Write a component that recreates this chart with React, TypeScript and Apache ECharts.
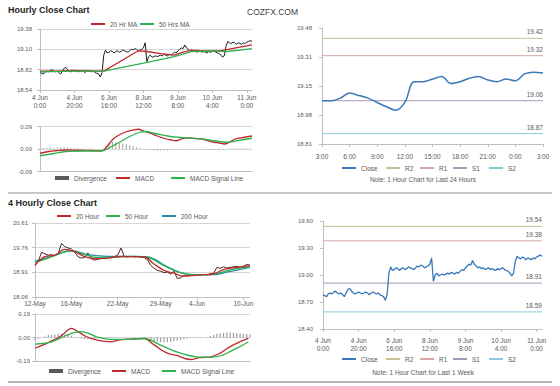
import React, { useEffect, useRef } from 'react';
import * as echarts from 'echarts';

const FONT = '"Liberation Sans", Arial, Helvetica, sans-serif';

// ---------- Hourly chart, last week (x = hour index) ----------
const weekTickIdx = [0, 20, 40, 60, 80, 100, 120];
const weekTickLabels = ['4 Jun\n0:00', '4 Jun\n20:00', '6 Jun\n16:00', '8 Jun\n12:00', '9 Jun\n8:00', '10 Jun\n4:00', '11 Jun\n0:00'];
const weekClose = [
  18.78, 18.77, 18.76, 18.79, 18.80, 18.79, 18.81, 18.82, 18.80, 18.79,
  18.80, 18.78, 18.76, 18.80, 18.84, 18.85, 18.82, 18.80, 18.79, 18.80,
  18.81, 18.80, 18.79, 18.80, 18.81, 18.80, 18.78, 18.80, 18.81, 18.80,
  18.79, 18.80, 18.78, 18.77, 18.76, 18.72, 18.78, 19.02, 19.09, 19.05,
  19.06, 19.08, 19.07, 19.05, 19.07, 19.08, 19.06, 19.07, 19.09, 19.08,
  19.07, 19.06, 19.08, 19.10, 19.09, 19.11, 19.10, 19.08, 19.09, 19.10,
  19.12, 19.19, 18.93, 19.00, 19.02, 18.99, 19.00, 19.01, 19.00, 19.01,
  19.02, 19.01, 19.03, 19.02, 19.01, 19.03, 19.02, 19.04, 19.06, 19.05,
  19.08, 19.10, 19.12, 19.11, 19.16, 19.12, 19.10, 19.08, 19.09, 19.07,
  19.08, 19.06, 19.07, 19.08, 19.06, 19.07, 19.06, 19.05, 19.07, 19.06,
  19.07, 19.08, 19.06, 19.05, 19.04, 19.02, 18.99, 19.02, 19.15, 19.21,
  19.19, 19.18, 19.20, 19.19, 19.17, 19.19, 19.18, 19.17, 19.19, 19.18,
  19.20, 19.21, 19.22, 19.21,
];
const ma20Hr = [[0, 18.80], [10, 18.80], [20, 18.81], [30, 18.80], [37, 18.80], [47, 18.94], [57, 19.08], [62, 19.07], [70, 19.04], [78, 19.02], [83, 19.06], [88, 19.09], [96, 19.08], [104, 19.08], [109, 19.10], [116, 19.13], [123, 19.16]];
const ma50Hr = [[0, 18.79], [20, 18.80], [37, 18.80], [60, 18.91], [78, 19.00], [88, 19.07], [98, 19.08], [108, 19.07], [116, 19.09], [123, 19.11]];
// divergence every 2 hours
const divHourly = [
  0.003, 0.004, 0.005, 0.005, 0.004, 0.005, 0.006, 0.006, 0.005, 0.004,
  0.003, 0.002, 0.001, 0.001, 0.000, 0.001, 0.000, -0.001, 0.001, 0.010,
  0.022, 0.028, 0.027, 0.025, 0.022, 0.019, 0.015, 0.011, 0.007, 0.003,
  0.000, -0.003, -0.004, -0.005, -0.006, -0.006, -0.006, -0.005, -0.004, -0.003,
  -0.002, -0.001, 0.000, 0.001, 0.000, -0.001, -0.001, -0.002, -0.002, -0.003,
  -0.003, -0.003, -0.004, -0.003, -0.001, 0.001, 0.002, 0.003, 0.003, 0.003,
  0.003, 0.002,
];
const macdHourly = [[0, -0.017], [5, -0.010], [9, -0.007], [15, -0.004], [22, -0.005], [30, -0.006], [35, -0.007], [37, -0.004], [40, 0.020], [43, 0.043], [47, 0.060], [50, 0.069], [54, 0.076], [57, 0.079], [60, 0.072], [64, 0.063], [68, 0.052], [72, 0.043], [76, 0.036], [79, 0.033], [82, 0.040], [85, 0.045], [90, 0.042], [94, 0.040], [98, 0.032], [101, 0.027], [104, 0.024], [107, 0.020], [110, 0.028], [113, 0.039], [118, 0.046], [123, 0.052]];
const signalHourly = [[0, -0.027], [8, -0.018], [15, -0.010], [25, -0.008], [35, -0.008], [37, -0.006], [42, 0.012], [47, 0.030], [52, 0.050], [58, 0.067], [61, 0.070], [67, 0.062], [74, 0.052], [80, 0.047], [85, 0.045], [94, 0.040], [101, 0.033], [108, 0.027], [115, 0.034], [123, 0.043]];

// ---------- 4 hourly chart (x = bar index, 8h per step) ----------
const fourTickIdx = [0, 11, 25, 38, 49, 63];
const fourTickLabels = ['12-May', '16-May', '22-May', '29-May', '4-Jun', '10-Jun'];
const fourClose = [
  19.16, 19.30, 19.60, 19.55, 19.50, 19.52, 19.48, 19.55, 19.90, 19.80,
  19.75, 19.72, 19.60, 19.45, 19.40, 19.42, 19.58, 19.38, 19.33, 19.36,
  19.40, 19.38, 19.44, 19.42, 19.45, 19.50, 19.75, 19.45, 19.44, 19.46,
  19.44, 19.45, 19.43, 19.42, 19.35, 19.15, 19.05, 18.98, 18.95, 18.90,
  18.92, 18.85, 18.95, 18.70, 18.72, 18.80, 18.78, 18.82, 18.80, 18.83,
  18.82, 18.84, 18.82, 18.86, 18.88, 19.08, 19.05, 19.10, 19.06, 19.08,
  19.10, 19.12, 19.08, 19.12, 19.18, 19.16,
];
const ma20Four = [[0, 19.15], [3, 19.45], [6, 19.50], [9, 19.70], [12, 19.62], [15, 19.45], [18, 19.38], [22, 19.40], [26, 19.46], [30, 19.45], [33, 19.44], [36, 19.20], [39, 18.98], [42, 18.88], [45, 18.78], [50, 18.82], [54, 18.86], [57, 19.00], [61, 19.08], [65, 19.14]];
const ma50Four = [[0, 19.25], [4, 19.40], [8, 19.58], [11, 19.65], [15, 19.52], [19, 19.42], [24, 19.43], [30, 19.46], [34, 19.43], [38, 19.20], [42, 18.98], [46, 18.85], [52, 18.82], [56, 18.90], [60, 19.02], [65, 19.10]];
const ma200Four = [[0, 19.30], [5, 19.45], [11, 19.66], [16, 19.52], [22, 19.46], [30, 19.46], [34, 19.44], [40, 19.10], [44, 18.90], [48, 18.83], [54, 18.83], [58, 18.92], [65, 19.08]];
const divFour = [
  -0.020, -0.010, 0.000, 0.010, 0.020, 0.020, 0.025, 0.030, 0.030, 0.025,
  0.020, 0.015, 0.005, -0.005, -0.010, -0.015, -0.015, -0.010, -0.010, -0.008,
  -0.006, -0.005, -0.004, -0.003, -0.002, 0.000, 0.000, 0.000, 0.000, 0.000,
  0.000, 0.000, -0.002, -0.005, -0.012, -0.020, -0.030, -0.035, -0.040, -0.040,
  -0.038, -0.035, -0.030, -0.025, -0.020, -0.015, -0.010, -0.005, -0.004, -0.003,
  -0.002, 0.000, 0.005, 0.012, 0.020, 0.030, 0.035, 0.038, 0.040, 0.040,
  0.038, 0.035, 0.032, 0.030, 0.028, 0.025,
];
const macdFour = [[0, -0.087], [2.5, -0.060], [5.5, -0.020], [7.5, 0.006], [10, 0.060], [11, 0.074], [13, 0.047], [15.6, 0.006], [18.6, -0.020], [22.7, -0.034], [25.7, -0.020], [29.7, -0.012], [33, -0.008], [36, -0.060], [39.8, -0.125], [42.8, -0.145], [46.9, -0.178], [49.9, -0.163], [52.9, -0.158], [55.9, -0.128], [59, -0.074], [62, -0.034], [64.5, -0.007]];
const signalFour = [[0, -0.053], [4.5, -0.039], [7.5, -0.007], [11, 0.034], [13.6, 0.047], [16, 0.035], [18.6, 0.006], [22.7, -0.015], [29.7, -0.012], [33, -0.008], [37.8, -0.060], [43.8, -0.125], [49.9, -0.158], [54, -0.158], [60, -0.100], [64.5, -0.034]];

// ---------- Last 24 hours (x = hour index) ----------
const dayTickLabels = ['3:00', '6:00', '9:00', '12:00', '15:00', '18:00', '21:00', '0:00', '3:00'];
const dayYLabels = ['18.81', '18.98', '19.15', '19.31', '19.48'];
const dayClose = [19.06, 19.06, 19.075, 19.105, 19.09, 19.075, 19.05, 19.025, 19.005, 19.05, 19.17, 19.17, 19.185, 19.20, 19.16, 19.17, 19.19, 19.20, 19.18, 19.17, 19.185, 19.175, 19.215, 19.225, 19.22];

// ---------- Pivot levels ----------
const levelNames = ['R2', 'R1', 'S1', 'S2'];
const levelColors = ['#c9c092', '#dba3a3', '#a697b8', '#8ccbdc'];
const dayLevels = [19.42, 19.32, 19.06, 18.87];
const weekLevels = [19.54, 19.38, 18.91, 18.59];

const RED = '#c0282c';
const GREEN = '#2db24e';
const TEAL = '#2a8aaa';
const BLUE = '#3a78b8';
const AXIS = '#bfbfbf';
const TXT = '#595959';

const fix2 = (v: number) => (Math.abs(v) < 1e-9 ? '0.00' : v.toFixed(2));

function xAxisOf(grid: number, max: number, ticks: number[] | null, labels: string[] | null, margin: number, interval?: number) {
  const axis: any = {
    type: 'value', gridIndex: grid, min: 0, max,
    axisLine: { show: true, onZero: false, lineStyle: { color: AXIS, width: 1 } },
    splitLine: { show: false },
  };
  if (interval) axis.interval = interval;
  if (ticks && labels) {
    axis.axisTick = { show: true, length: 3, lineStyle: { color: AXIS }, customValues: ticks };
    axis.axisLabel = {
      show: true, customValues: ticks, margin, color: TXT, fontSize: 6.5, lineHeight: 7.5, fontFamily: FONT,
      formatter: (v: number) => { const k = ticks.indexOf(v); return k >= 0 ? labels[k] : ''; },
    };
  } else {
    axis.axisTick = { show: false };
    axis.axisLabel = { show: false };
  }
  return axis;
}

function yAxisOf(grid: number, min: number, max: number, interval: number, margin: number, split: boolean, fmt: any = fix2) {
  return {
    type: 'value', gridIndex: grid, min, max, interval,
    axisLine: { show: true, onZero: false, lineStyle: { color: AXIS, width: 1 } },
    axisTick: { show: true, length: 3, lineStyle: { color: AXIS } },
    axisLabel: { margin, color: TXT, fontSize: 6, fontFamily: FONT, formatter: fmt },
    splitLine: { show: split, lineStyle: { color: '#d6d6d6', width: 1 } },
  };
}

function lineS(name: string, ax: number, data: any[], color: string, width: number, smooth: boolean | number = false, z = 3) {
  return {
    type: 'line', name, xAxisIndex: ax, yAxisIndex: ax, data, color,
    showSymbol: false, smooth, z, silent: true,
    lineStyle: { color, width },
  };
}

function levelSeries(ax: number, levels: number[], xMax: number) {
  return levelNames.map((n, k) => ({
    type: 'line', name: n, xAxisIndex: ax, yAxisIndex: ax, color: levelColors[k], silent: true,
    showSymbol: true, symbol: 'circle', symbolSize: 0.01, z: 2,
    lineStyle: { color: levelColors[k], width: 1 },
    data: [
      [0, levels[k]],
      {
        value: [xMax, levels[k]],
        label: { show: true, position: 'top', align: 'right', distance: 3, formatter: levels[k].toFixed(2), color: TXT, fontSize: 6.5, fontFamily: FONT },
      },
    ],
  }));
}

function leg(name: any, left: number, yc: number, h = 2) {
  return {
    left, top: yc - 3.5, padding: 0, itemGap: 0, itemWidth: 14, itemHeight: h, icon: 'rect',
    selectedMode: false, data: [name],
    textStyle: { fontSize: 6.5, color: TXT, fontFamily: FONT },
  };
}

function buildOption(): any {
  const grids = [
    { left: 40, top: 29, width: 212, height: 61 },
    { left: 40, top: 126.5, width: 212, height: 45 },
    { left: 322, top: 28, width: 221, height: 116 },
    { left: 35, top: 223, width: 215, height: 74 },
    { left: 35, top: 314, width: 215, height: 47 },
    { left: 323, top: 221, width: 219, height: 108 },
  ].map((g) => ({ ...g, containLabel: false, outerBoundsMode: 'none' }));

  const xAxis = [
    xAxisOf(0, 123, weekTickIdx, weekTickLabels, 4, 20),
    xAxisOf(1, 123, null, null, 0, 20),
    xAxisOf(2, 24, [0, 3, 6, 9, 12, 15, 18, 21, 24], dayTickLabels, 9, 3),
    xAxisOf(3, 65, fourTickIdx, fourTickLabels, 3),
    xAxisOf(4, 65, null, null, 0),
    xAxisOf(5, 123, weekTickIdx, weekTickLabels, 8, 20),
  ];
  const yAxis = [
    yAxisOf(0, 18.54, 19.38, 0.28, 8, true),
    yAxisOf(1, -0.09, 0.09, 0.09, 8, true),
    yAxisOf(2, 18.81, 19.48, 0.1675, 10, false, (_v: number, i: number) => dayYLabels[i] ?? ''),
    yAxisOf(3, 18.06, 20.61, 0.85, 7, true),
    yAxisOf(4, -0.19, 0.19, 0.19, 5, true),
    yAxisOf(5, 18.4, 19.6, 0.3, 10, false),
  ];

  const series: any[] = [
    // top-left price
    lineS('Hourly Price', 0, weekClose.map((v, i) => [i, v]), '#1e1e1e', 1, false, 2),
    lineS('20 Hr MA', 0, ma20Hr, RED, 1.3),
    lineS('50 Hrs MA', 0, ma50Hr, GREEN, 1.3),
    // top-left MACD
    {
      type: 'bar', name: 'Divergence', xAxisIndex: 1, yAxisIndex: 1, color: '#9e9e9e', barWidth: 1, silent: true,
      data: divHourly.map((v, k) => [k * 2, v]),
    },
    lineS('MACD', 1, macdHourly, RED, 1.3, 0.4),
    lineS('MACD Signal Line', 1, signalHourly, GREEN, 1.3, 0.4),
    // top-right
    ...levelSeries(2, dayLevels, 24),
    lineS('Close', 2, dayClose.map((v, i) => [i, v]), BLUE, 1.5, 0.35, 4),
    // bottom-left price
    lineS('4H Price', 3, fourClose.map((v, i) => [i, v]), '#4a2418', 1, false, 2),
    lineS('200 Hour', 3, ma200Four, TEAL, 1.3, 0.4),
    lineS('50 Hour', 3, ma50Four, GREEN, 1.3, 0.4),
    lineS('20 Hour', 3, ma20Four, RED, 1.3, 0.4),
    // bottom-left MACD
    {
      type: 'bar', name: 'Divergence', xAxisIndex: 4, yAxisIndex: 4, color: '#9e9e9e', barWidth: 1.2, silent: true,
      data: divFour.map((v, i) => [i, v]),
    },
    lineS('MACD', 4, macdFour, RED, 1.3, 0.4),
    lineS('MACD Signal Line', 4, signalFour, GREEN, 1.3, 0.4),
    // bottom-right
    ...levelSeries(5, weekLevels, 123),
    lineS('Close', 5, weekClose.map((v, i) => [i, v]), BLUE, 1.3, false, 4),
  ];

  const divLegend = { name: 'Divergence', itemStyle: { color: '#595959' } };
  const legend = [
    leg('20 Hr MA', 91, 24), leg('50 Hrs MA', 140, 24),
    leg(divLegend, 55, 178, 4), leg('MACD', 116, 178), leg('MACD Signal Line', 171, 178),
    leg('Close', 342, 168), leg('R2', 386, 168), leg('R1', 420, 168), leg('S1', 453, 168), leg('S2', 489, 168),
    leg('20 Hour', 57, 216), leg('50 Hour', 106, 216), leg('200 Hour', 162, 216),
    leg(divLegend, 49, 371, 4), leg('MACD', 112, 371), leg('MACD Signal Line', 162, 371),
    leg('Close', 342, 359), leg('R2', 386, 359), leg('R1', 420, 359), leg('S1', 453, 359), leg('S2', 489, 359),
  ];

  const txt = (text: string, x: number, y: number, size: number, weight: string, color: string, align = 'left') => ({
    type: 'text', x, y, silent: true,
    style: { text, fontSize: size, fontWeight: weight, fontFamily: FONT, fill: color, align, verticalAlign: 'middle' },
  });

  const graphic = [
    txt('Hourly Close Chart', 8, 10, 9, 'bold', '#262626'),
    txt('COZFX.COM', 247, 12, 8.5, 'normal', '#404040'),
    txt('Note: 1 Hour Chart for Last 24 Hours', 423, 179, 6.5, 'normal', TXT, 'center'),
    { type: 'line', silent: true, shape: { x1: 8, y1: 193, x2: 552, y2: 193 }, style: { stroke: '#b3b3b3', lineWidth: 1.5 } },
    txt('4 Hourly Close Chart', 8, 203, 9, 'bold', '#262626'),
    txt('Note: 1 Hour Chart for Last 1 Week', 423, 372, 6.5, 'normal', TXT, 'center'),
    { type: 'line', silent: true, shape: { x1: 8, y1: 382, x2: 552, y2: 382 }, style: { stroke: '#b3b3b3', lineWidth: 2 } },
  ];

  return {
    animation: false,
    backgroundColor: '#ffffff',
    textStyle: { fontFamily: FONT },
    grid: grids,
    xAxis,
    yAxis,
    series,
    legend,
    graphic,
  };
}

export default function App() {
  const ref = useRef<HTMLDivElement>(null);
  useEffect(() => {
    if (!ref.current) return;
    const chart = echarts.init(ref.current, undefined, { renderer: 'svg', width: 560, height: 386 });
    chart.setOption(buildOption());
    return () => chart.dispose();
  }, []);
  return (
    <div
      ref={ref}
      style={{ position: 'absolute', left: 0, top: 0, width: 560, height: 386, background: '#fff' }}
    />
  );
}
